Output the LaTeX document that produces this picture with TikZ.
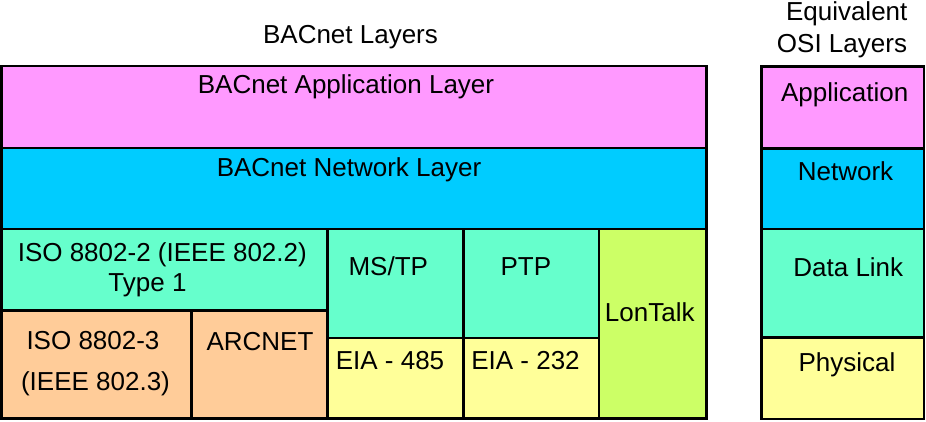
\documentclass[tikz,border=0pt]{standalone}
\usepackage{fontspec}
\setmainfont{Liberation Sans}
\definecolor{appc}{HTML}{FF99FF}
\definecolor{netc}{HTML}{00CCFF}
\definecolor{dlc}{HTML}{66FFCC}
\definecolor{peach}{HTML}{FFCC99}
\definecolor{phyc}{HTML}{FFFF99}
\definecolor{lonc}{HTML}{CCFF66}
\tikzset{
  layerbox/.style={draw=black, line width=2.6pt},
  lbl/.style={anchor=base, inner sep=0pt, font=\fontsize{26}{30}\selectfont}
}
\begin{document}
\begin{tikzpicture}[x=1pt, y=-1pt]
\useasboundingbox (0,0) rectangle (926,421);
% BACnet stack
\filldraw[layerbox, fill=appc] (1.5,66) rectangle (706.5,148);
\filldraw[layerbox, fill=netc] (1.5,148) rectangle (706.5,229);
\filldraw[layerbox, fill=dlc] (1.5,229) rectangle (327.7,310.7);
\filldraw[layerbox, fill=peach] (1.5,310.7) rectangle (191.7,418.5);
\filldraw[layerbox, fill=peach] (191.7,310.7) rectangle (327.7,418.5);
\filldraw[layerbox, fill=dlc] (327.7,229) rectangle (463.3,338);
\filldraw[layerbox, fill=dlc] (463.3,229) rectangle (599,338);
\filldraw[layerbox, fill=phyc] (327.7,338) rectangle (463.3,418.5);
\filldraw[layerbox, fill=phyc] (463.3,338) rectangle (599,418.5);
\filldraw[layerbox, fill=lonc] (599,229) rectangle (706.5,418.5);
% OSI stack
\filldraw[layerbox, fill=appc] (761.7,66.7) rectangle (924,148.3);
\filldraw[layerbox, fill=netc] (761.7,148.3) rectangle (924,229);
\filldraw[layerbox, fill=dlc] (761.7,229) rectangle (924,337.7);
\filldraw[layerbox, fill=phyc] (761.7,337.7) rectangle (924,419);
% labels
\node[lbl] (t1) at (350.5,43.3) {BACnet Layers};
\node[lbl] (t2a) at (846.7,20) {Equivalent};
\node[lbl] (t2b) at (842,52.7) {OSI Layers};
\node[lbl] (app) at (346,93) {BACnet Application Layer};
\node[lbl] (net) at (349,176) {BACnet Network Layer};
\node[lbl] (iso2a) at (162.3,261.7) {ISO 8802-2 (IEEE 802.2)};
\node[lbl] (iso2b) at (147.5,291.7) {Type 1};
\node[lbl] (iso3a) at (93,349.3) {ISO 8802-3};
\node[lbl] (iso3b) at (95.5,390.7) {(IEEE 802.3)};
\node[lbl] (arc) at (260,350.7) {ARCNET};
\node[lbl] (mstp) at (388.3,275) {MS/TP};
\node[lbl] (ptp) at (525.8,275) {PTP};
\node[lbl] (lon) at (649.7,321) {LonTalk};
\node[lbl] (e485) at (390,369.3) {EIA - 485};
\node[lbl] (e232) at (525.5,369.3) {EIA - 232};
\node[lbl] (oapp) at (844.7,101.7) {Application};
\node[lbl] (onet) at (845.5,180) {Network};
\node[lbl] (odl) at (848.3,276.7) {Data Link};
\node[lbl] (ophy) at (847,371) {Physical};
\end{tikzpicture}
\end{document}
